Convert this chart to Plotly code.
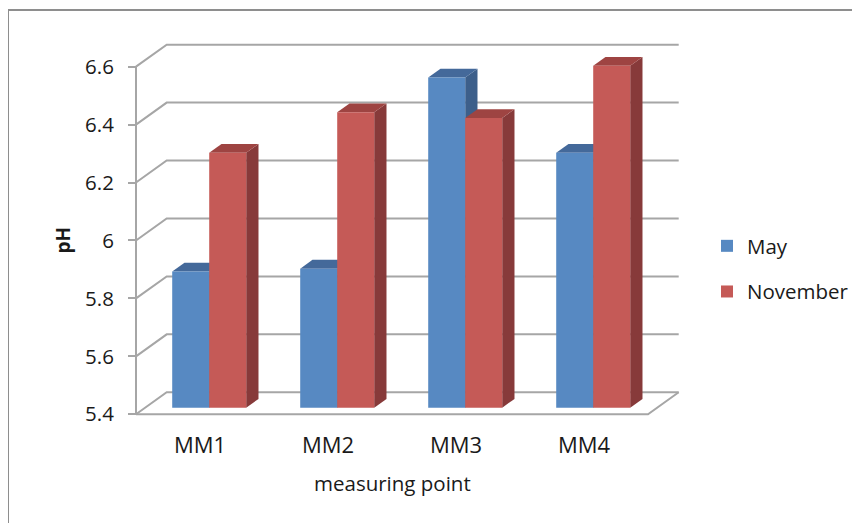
import plotly.graph_objects as go

# ---------------- data ----------------
categories = ["MM1", "MM2", "MM3", "MM4"]
may_ph = [5.87, 5.88, 6.54, 6.28]
november_ph = [6.28, 6.42, 6.40, 6.58]
y_tick_values = [5.4, 5.6, 5.8, 6.0, 6.2, 6.4, 6.6]
y_tick_labels = ["5.4", "5.6", "5.8", "6", "6.2", "6.4", "6.6"]
series_names = ["May", "November"]
x_title = "measuring point"
y_title = "pH"

# ---------------- geometry / style ----------------
OFF = 8                      # page body margin in the browser
W, H = 860 - OFF, 523 - OFF
# screen-pixel layout, converted to figure pixels by subtracting OFF
PLOT_L, PLOT_R, PLOT_T, PLOT_B = 130 - OFF, 690 - OFF, 35 - OFF, 420 - OFF
PX_PER_CAT = 128.0
PX_PER_UNIT = 289.7
CAT0_PX = 200.0 - OFF
AXIS_PX = 136.0 - OFF
FLOOR = y_tick_values[0]
TOPV = y_tick_values[-1]
FLOOR_PX = 414.3 - OFF

x_range = [(PLOT_L - CAT0_PX) / PX_PER_CAT, (PLOT_R - CAT0_PX) / PX_PER_CAT]
y_range = [FLOOR - (PLOT_B - FLOOR_PX) / PX_PER_UNIT, FLOOR + (FLOOR_PX - PLOT_T) / PX_PER_UNIT]

DX = 30.7 / PX_PER_CAT      # depth of the wall, x data units
DY = 22.0 / PX_PER_UNIT     # depth of the wall, y data units
BAR_FRONT, BAR_BACK = 0.3, 0.7
BAR_W = 37.0 / PX_PER_CAT

GRID = "#A6A6A6"
FRONT = ["#5789C2", "#C55A57"]
TOPC = ["#44699A", "#9E4442"]
SIDE = ["#3D5F8A", "#873A3A"]
FONT = "'Open Sans', Lato, sans-serif"
TXT = "#1a1a1a"
FS = 20.5


def px_x(p):
    return (p - OFF - PLOT_L) / (PLOT_R - PLOT_L)


def px_y(p):
    return (PLOT_B - (p - OFF)) / (PLOT_B - PLOT_T)


n = len(categories)
xs = [i + BAR_FRONT * DX for i in range(n)]
base = FLOOR + BAR_FRONT * DY
ddx = (BAR_BACK - BAR_FRONT) * DX
ddy = (BAR_BACK - BAR_FRONT) * DY
offsets = [-BAR_W, 0.0]
values = [may_ph, november_ph]

fig = go.Figure()
for s in range(2):
    fig.add_trace(go.Bar(
        x=xs, y=[v - FLOOR for v in values[s]], base=base,
        width=BAR_W, offset=offsets[s], name=series_names[s],
        marker=dict(color=FRONT[s], line=dict(width=0)),
        customdata=values[s], hovertemplate="%{customdata}<extra>" + series_names[s] + "</extra>",
        legendgroup=series_names[s],
    ))

shapes = []
xl_front = -0.5
xr_front = n - 0.5
# back wall gridlines + left wall diagonals
for v in y_tick_values:
    shapes.append(dict(type="path", xref="x", yref="y", layer="below",
                       path=f"M {xl_front},{v} L {xl_front + DX},{v + DY} L {xr_front + DX},{v + DY}",
                       line=dict(color=GRID, width=2)))
# floor front edge and right edge
shapes.append(dict(type="path", xref="x", yref="y", layer="below",
                   path=f"M {xl_front},{FLOOR} L {xr_front},{FLOOR} L {xr_front + DX},{FLOOR + DY}",
                   line=dict(color=GRID, width=2)))
# front value axis line
shapes.append(dict(type="line", xref="x", yref="y", layer="below",
                   x0=xl_front, x1=xl_front, y0=FLOOR, y1=TOPV,
                   line=dict(color=GRID, width=2)))

# bar tops and sides
for i in range(n):
    for s in range(2):
        v = values[s][i]
        xl = xs[i] + offsets[s]
        xr = xl + BAR_W
        top = v + BAR_FRONT * DY
        shapes.append(dict(type="path", xref="x", yref="y", layer="below",
                           path=f"M {xr},{base} L {xr},{top} L {xr + ddx},{top + ddy} L {xr + ddx},{base + ddy} Z",
                           fillcolor=SIDE[s], line=dict(width=0)))
        shapes.append(dict(type="path", xref="x", yref="y", layer="below",
                           path=f"M {xl},{top} L {xr},{top} L {xr + ddx},{top + ddy} L {xl + ddx},{top + ddy} Z",
                           fillcolor=TOPC[s], line=dict(width=0)))

# chart area border (top + left), screen coordinates
shapes.append(dict(type="path", xref="paper", yref="paper", layer="above",
                   path=f"M {px_x(8)},{px_y(540)} L {px_x(8)},{px_y(10)} L {px_x(880)},{px_y(10)}",
                   line=dict(color="#8E8E8E", width=2)))

annotations = [
    # category-axis title centred under the categories
    dict(text=x_title, xref="x", x=(n - 1) / 2, yref="paper", y=px_y(483),
         xanchor="center", yanchor="middle", showarrow=False,
         font=dict(family=FONT, size=FS, color=TXT)),
    # value-axis title centred on the value range
    dict(text=f"<b>{y_title}</b>", xref="paper", x=px_x(63), yref="y", y=(FLOOR + TOPV) / 2,
         xanchor="center", yanchor="middle", textangle=-90, showarrow=False,
         font=dict(family=FONT, size=19, color=TXT)),
]

fig.update_layout(
    template="none",
    width=W, height=H,
    margin=dict(l=PLOT_L, r=W - PLOT_R, t=PLOT_T, b=H - PLOT_B, pad=0, autoexpand=False),
    paper_bgcolor="white", plot_bgcolor="rgba(0,0,0,0)",
    font=dict(family=FONT, size=FS, color=TXT),
    shapes=shapes,
    annotations=annotations,
    barmode="overlay",
    showlegend=True,
    legend=dict(xref="container", yref="container", x=(707 - OFF) / W, y=1 - (226 - OFF) / H,
                xanchor="left", yanchor="top", traceorder="grouped", tracegroupgap=16,
                font=dict(family=FONT, size=FS, color=TXT), bgcolor="rgba(0,0,0,0)"),
    xaxis=dict(range=x_range, tickmode="array", tickvals=list(range(n)), ticktext=categories,
               showgrid=False, zeroline=False, showline=False, ticks="", ticklabelstandoff=10,
               automargin=False, tickfont=dict(size=22), fixedrange=True),
    yaxis=dict(range=y_range, tickmode="array", tickvals=y_tick_values, ticktext=y_tick_labels,
               anchor="free", position=(AXIS_PX - PLOT_L) / (PLOT_R - PLOT_L), side="left", automargin=False,
               showgrid=False, zeroline=False, showline=False, tickfont=dict(size=FS),
               ticks="outside", ticklen=8, tickwidth=2, tickcolor=GRID, ticklabelstandoff=10,
               fixedrange=True),
)

fig.write_html("out.html")
